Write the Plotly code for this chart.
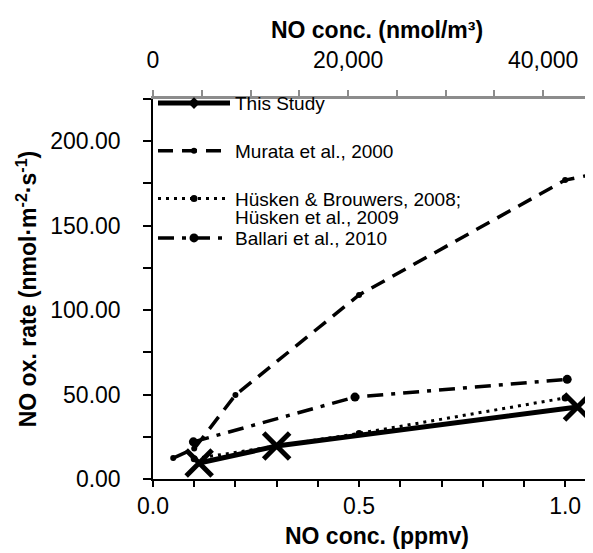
import plotly.graph_objects as go

# ---- data ----
study_x = [0.112, 0.30, 1.03]
study_y = [9.5, 19.5, 42.6]

murata_x = [0.049, 0.10, 0.20, 0.50, 1.00, 1.10]
murata_y = [12.4, 18.0, 49.7, 109.0, 177.0, 182.0]

husken_x = [0.10, 0.50, 1.00]
husken_y = [12.0, 27.0, 48.0]

ballari_x = [0.098, 0.49, 1.005]
ballari_y = [22.0, 48.5, 59.0]

x_ticks = [0.0, 0.5, 1.0]
y_ticks = [0, 50, 100, 150, 200]
top_ticks = [0, 20000, 40000]

X_MAX = 1.087          # ppmv at the right edge
NMOL_PER_PPMV = 42250  # top-axis scale (nmol/m3 per ppmv)

FONT = "Liberation Sans"
BLACK = "#000000"
GREY = "#8c8c8c"
LEG_FONT = 19

fig = go.Figure()

# legend proxy for This Study (diamond in legend, X on plot)
fig.add_trace(go.Scatter(
    x=[None], y=[None], mode="lines+markers", name="This Study",
    line=dict(color=BLACK, width=5),
    marker=dict(symbol="diamond", size=9, color=BLACK),
    legendgroup="a", legend="legend"))
fig.add_trace(go.Scatter(
    x=study_x, y=study_y, mode="lines+markers", showlegend=False,
    line=dict(color=BLACK, width=5),
    marker=dict(symbol="x-thin", size=26, color=BLACK,
                line=dict(color=BLACK, width=5)),
    cliponaxis=False, legendgroup="a"))

fig.add_trace(go.Scatter(
    x=murata_x, y=murata_y, mode="lines+markers",
    name="Murata et al., 2000",
    line=dict(color=BLACK, width=3.5, dash="15px,9px"),
    marker=dict(symbol="circle", size=6, color=BLACK),
    legendgroup="b", legend="legend"))

fig.add_trace(go.Scatter(
    x=husken_x, y=husken_y, mode="lines+markers",
    name="Hüsken & Brouwers, 2008;",
    line=dict(color=BLACK, width=3, dash="3px,5px"),
    marker=dict(symbol="circle", size=7, color=BLACK),
    legendgroup="c", legend="legend"))

fig.add_trace(go.Scatter(
    x=ballari_x, y=ballari_y, mode="lines+markers",
    name="Ballari et al., 2010",
    line=dict(color=BLACK, width=3.5, dash="16px,8px,4px,8px"),
    marker=dict(symbol="circle", size=9, color=BLACK),
    legendgroup="d", legend="legend2"))

# invisible trace to anchor top axis
fig.add_trace(go.Scatter(
    x=[0, X_MAX * NMOL_PER_PPMV], y=[None, None], xaxis="x2", yaxis="y",
    mode="lines", showlegend=False, hoverinfo="skip"))

leg_common = dict(xanchor="left", yanchor="top", bgcolor="rgba(0,0,0,0)",
                  font=dict(size=LEG_FONT, family=FONT), itemwidth=72,
                  valign="top", traceorder="grouped")

fig.update_layout(
    width=593, height=553,
    margin=dict(l=145, r=0, t=91, b=82),
    paper_bgcolor="white", plot_bgcolor="white",
    font=dict(family=FONT, size=23, color=BLACK),
    showlegend=True,
    legend=dict(x=0.0, y=1.039, tracegroupgap=20, **leg_common),
    legend2=dict(x=0.0, y=0.684, **leg_common),
    annotations=[dict(
        text="Hüsken et al., 2009", xref="paper", yref="paper",
        x=0.181, y=0.687, xanchor="left", yanchor="middle",
        showarrow=False, borderpad=0,
        font=dict(size=LEG_FONT, family=FONT, color=BLACK))],
    xaxis=dict(
        range=[0, X_MAX], tickvals=x_ticks, tickformat=".1f",
        ticks="outside", ticklen=6, tickwidth=1.5, tickcolor=BLACK,
        minor=dict(dtick=0.1, ticks="outside", ticklen=6, tickwidth=1.5,
                   tickcolor=BLACK),
        showline=True, linecolor=BLACK, linewidth=1.5,
        showgrid=False, zeroline=False,
        tickfont=dict(size=23),
        title=dict(text="<b>NO conc. (ppmv)</b>", font=dict(size=23),
                   standoff=10)),
    xaxis2=dict(
        overlaying="x", side="top", anchor="y",
        range=[0, X_MAX * NMOL_PER_PPMV], tickvals=top_ticks,
        tickformat=",d",
        ticks="outside", ticklen=6, tickwidth=1.5, tickcolor=GREY,
        minor=dict(dtick=5000, ticks="outside", ticklen=6, tickwidth=1.5,
                   tickcolor=GREY),
        showline=True, linecolor=GREY, linewidth=2.5,
        showgrid=False, zeroline=False,
        tickfont=dict(size=23), ticklabelstandoff=13,
        title=dict(text="<b>NO conc. (nmol/m³)</b>", font=dict(size=23),
                   standoff=2)),
    yaxis=dict(
        range=[0, 225], tickvals=y_ticks, tickformat=".2f",
        ticks="outside", ticklen=8, tickwidth=1.5, tickcolor=BLACK,
        minor=dict(dtick=25, ticks="outside", ticklen=8, tickwidth=1.5,
                   tickcolor=BLACK),
        showline=True, linecolor=BLACK, linewidth=1.5,
        showgrid=False, zeroline=False,
        tickfont=dict(size=23), ticklabelstandoff=18,
        title=dict(text="<b>NO ox. rate (nmol·m<sup>-2</sup>·s<sup>-1</sup>)</b>",
                   font=dict(size=23), standoff=7)),
)

fig.write_html("out.html")
